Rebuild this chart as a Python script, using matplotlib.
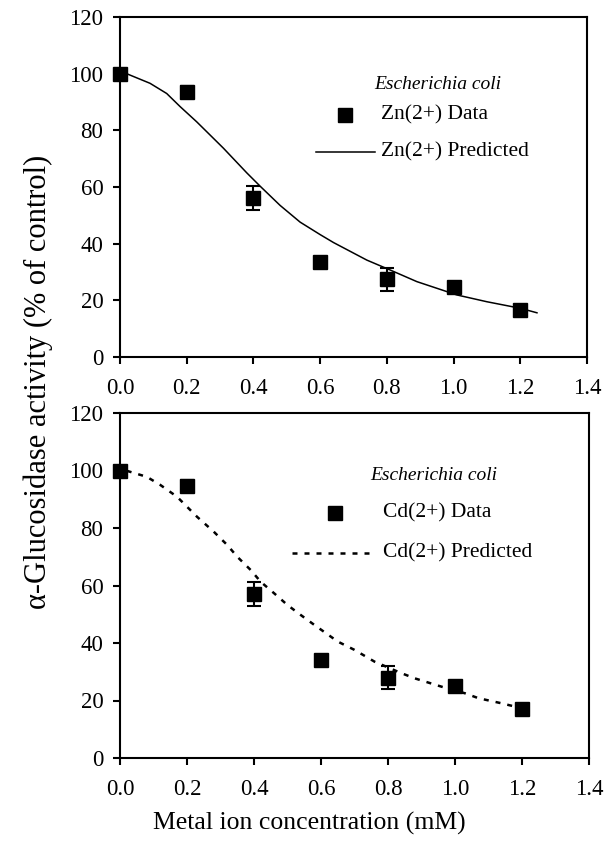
import matplotlib
matplotlib.use("Agg")
import matplotlib.pyplot as plt
from matplotlib.lines import Line2D

plt.rcParams['font.family'] = ['Liberation Serif', 'DejaVu Serif']

# Data
conc = [0.0, 0.2, 0.4, 0.6, 0.8, 1.0, 1.2]
zn_data = [100, 93.7, 56.2, 33.6, 27.4, 24.8, 16.6]
zn_err = [0.0, 2.0, 4.2, 1.5, 4.0, 1.5, 1.0]
cd_data = [99.9, 94.7, 57.0, 34.1, 27.9, 25.1, 17.0]
cd_err = [0.0, 2.0, 4.1, 1.5, 4.0, 1.5, 1.0]

zn_pred_x = [0.0, 0.03, 0.09, 0.14, 0.18, 0.23, 0.31, 0.38, 0.42, 0.48, 0.54, 0.60,
             0.64, 0.74, 0.81, 0.89, 1.01, 1.10, 1.20, 1.25]
zn_pred_y = [101, 99.5, 96.6, 93.0, 88.4, 83.0, 73.7, 65.0, 60.3, 53.5, 47.6, 43.2,
             40.4, 34.2, 30.7, 26.6, 21.9, 19.5, 17.2, 15.6]

cd_pred_x = [0.02, 0.08, 0.12, 0.17, 0.23, 0.28, 0.32, 0.35, 0.39, 0.42, 0.46, 0.50,
             0.54, 0.58, 0.65, 0.70, 0.76, 0.84, 0.88, 0.96, 1.03, 1.07, 1.14, 1.22]
cd_pred_y = [99.9, 97.8, 95.0, 90.9, 83.9, 78.7, 74.1, 70.0, 65.4, 61.3, 57.3, 53.2,
             49.7, 46.3, 40.5, 37.6, 33.5, 29.5, 27.7, 24.8, 22.5, 20.8, 19.0, 16.7]

xticks = [0.0, 0.2, 0.4, 0.6, 0.8, 1.0, 1.2, 1.4]
yticks = [0, 20, 40, 60, 80, 100, 120]
organism = "Escherichia coli"
ylabel = "\u03b1-Glucosidase activity (% of control)"
xlabel = "Metal ion concentration (mM)"

W, H = 606, 849
fig = plt.figure(figsize=(W / 100, H / 100), dpi=100)

def px_axes(l, t, r, b):
    return fig.add_axes([l / W, 1 - b / H, (r - l) / W, (b - t) / H])

ax1 = px_axes(120, 17, 587, 357)
ax2 = px_axes(120, 413, 589, 758)

def style(ax):
    ax.set_xlim(0, 1.4)
    ax.set_ylim(0, 120)
    ax.set_xticks(xticks)
    ax.set_yticks(yticks)
    ax.set_xticklabels([f"{v:.1f}" for v in xticks])
    ax.set_yticklabels([str(v) for v in yticks])
    for s in ax.spines.values():
        s.set_linewidth(1.5)
    ax.tick_params(direction='out', length=5, width=1.5, labelsize=16.5)
    ax.tick_params(axis='x', pad=10)
    ax.tick_params(axis='y', pad=7)

LEG_FS = 15.5

# Top panel (Zn)
ax1.plot(zn_pred_x, zn_pred_y, color='black', lw=1.1, zorder=2)
ax1.errorbar(conc, zn_data, yerr=zn_err, fmt='s', color='black', ms=10,
             ecolor='black', elinewidth=1.5, capsize=5, capthick=1.5, zorder=3,
             clip_on=False)
style(ax1)
ax1.text(0.68, 0.80, organism, transform=ax1.transAxes, ha='center', va='center',
         fontsize=14, style='italic')
ax1.add_line(Line2D([0.482], [0.712], transform=ax1.transAxes, marker='s', ms=10,
                    color='black', ls='none'))
ax1.text(0.559, 0.712, "Zn(2+) Data", transform=ax1.transAxes, ha='left', va='center', fontsize=LEG_FS)
ax1.add_line(Line2D([0.42, 0.545], [0.603, 0.603], transform=ax1.transAxes,
                    color='black', lw=1.1))
ax1.text(0.559, 0.603, "Zn(2+) Predicted", transform=ax1.transAxes, ha='left', va='center', fontsize=LEG_FS)

# Bottom panel (Cd)
ax2.plot(cd_pred_x, cd_pred_y, color='black', lw=1.8, ls=(0, (2.0, 2.8)), zorder=2)
ax2.errorbar(conc, cd_data, yerr=cd_err, fmt='s', color='black', ms=10,
             ecolor='black', elinewidth=1.5, capsize=5, capthick=1.5, zorder=3,
             clip_on=False)
style(ax2)
ax2.text(0.67, 0.82, organism, transform=ax2.transAxes, ha='center', va='center',
         fontsize=14, style='italic')
ax2.add_line(Line2D([0.458], [0.71], transform=ax2.transAxes, marker='s', ms=10,
                    color='black', ls='none'))
ax2.text(0.56, 0.71, "Cd(2+) Data", transform=ax2.transAxes, ha='left', va='center', fontsize=LEG_FS)
ax2.add_line(Line2D([0.367, 0.535], [0.594, 0.594], transform=ax2.transAxes,
                    color='black', lw=1.8, ls=(0, (2.0, 2.8))))
ax2.text(0.56, 0.594, "Cd(2+) Predicted", transform=ax2.transAxes, ha='left', va='center', fontsize=LEG_FS)

fig.text(38 / W, 1 - 382 / H, ylabel, rotation=90, ha='center', va='center', fontsize=22)
fig.text(309 / W, 1 - 823 / H, xlabel, ha='center', va='center', fontsize=18.5)

fig.savefig("out.png", dpi=100)
